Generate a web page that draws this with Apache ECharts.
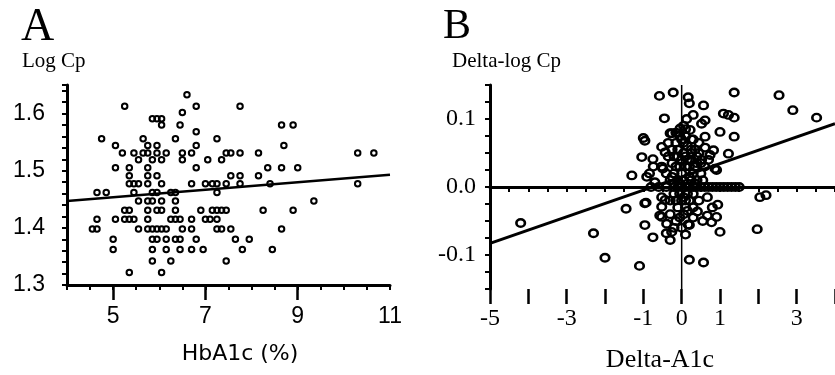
<!DOCTYPE html>
<html>
<head>
<meta charset="utf-8">
<script src="https://cdn.jsdelivr.net/npm/echarts@6/dist/echarts.min.js"></script>
<style>
  html, body { margin: 0; padding: 0; background: #fff; }
  #chart { width: 835px; height: 375px; }
</style>
</head>
<body>
<div id="chart"></div>
<script>
// Panel A: HbA1c (%) vs log Cp, one [x, y] pair per patient
const hba1cLogCp = [
  [5.35,1.322],[6.05,1.322],
  [5.85,1.342],[6.25,1.342],[7.45,1.342],
  [5.0,1.362],[5.85,1.362],[6.15,1.362],[6.45,1.362],[6.7,1.362],[6.95,1.362],[7.8,1.362],[8.45,1.362],
  [5.0,1.380],[5.85,1.380],[5.95,1.380],[6.15,1.380],[6.35,1.380],[6.45,1.380],[6.8,1.380],[7.65,1.380],[7.95,1.380],
  [4.55,1.398],[4.65,1.398],[5.55,1.398],[5.75,1.398],[5.85,1.398],[5.95,1.398],[6.05,1.398],[6.15,1.398],[6.5,1.398],[6.7,1.398],[7.25,1.398],[7.35,1.398],[7.55,1.398],[8.65,1.398],
  [4.65,1.415],[5.05,1.415],[5.25,1.415],[5.35,1.415],[5.45,1.415],[5.75,1.415],[6.25,1.415],[6.35,1.415],[6.45,1.415],[6.7,1.415],[7.0,1.415],[7.1,1.415],[7.25,1.415],
  [5.25,1.431],[5.35,1.431],[5.75,1.431],[5.95,1.431],[6.05,1.431],[6.35,1.431],[6.9,1.431],[7.15,1.431],[7.25,1.431],[7.35,1.431],[7.45,1.431],[8.25,1.431],[8.9,1.431],
  [5.55,1.447],[5.75,1.447],[5.85,1.447],[6.05,1.447],[6.35,1.447],[9.35,1.447],
  [4.65,1.462],[4.85,1.462],[5.45,1.462],[5.85,1.462],[5.95,1.462],[6.25,1.462],[6.35,1.462],[7.25,1.462],
  [5.35,1.477],[5.45,1.477],[5.55,1.477],[5.75,1.477],[6.05,1.477],[6.7,1.477],[7.0,1.477],[7.15,1.477],[7.25,1.477],[7.45,1.477],[7.75,1.477],[8.4,1.477],[10.3,1.477],
  [5.35,1.491],[5.75,1.491],[5.95,1.491],[7.55,1.491],[7.75,1.491],[8.15,1.491],
  [5.05,1.505],[5.35,1.505],[5.75,1.505],[6.8,1.505],[8.35,1.505],[8.65,1.505],[9.0,1.505],
  [5.55,1.519],[5.85,1.519],[6.05,1.519],[6.5,1.519],[7.05,1.519],[7.35,1.519],
  [5.2,1.531],[5.45,1.531],[5.65,1.531],[5.75,1.531],[5.95,1.531],[6.15,1.531],[6.5,1.531],[6.7,1.531],[7.45,1.531],[7.55,1.531],[7.75,1.531],[8.15,1.531],[10.3,1.531],[10.65,1.531],
  [5.05,1.544],[5.75,1.544],[5.95,1.544],[6.8,1.544],[8.7,1.544],
  [4.75,1.556],[5.65,1.556],[6.35,1.556],[7.25,1.556],
  [6.8,1.568],
  [6.05,1.580],[6.45,1.580],[8.65,1.580],[8.9,1.580],
  [5.85,1.591],[5.95,1.591],[6.05,1.591],
  [6.5,1.602],
  [5.25,1.613],[6.8,1.613],[7.75,1.613],
  [6.6,1.633]
];
const fitA = [[4, 1.447], [11, 1.493]];
const ticksAx = [5, 7, 9, 11];
const ticksAy = [1.3, 1.4, 1.5, 1.6];

// Panel B: change in A1c vs change in log Cp
const deltaA1cLogCp = [
  [-4.2,-0.053],[-2.3,-0.068],[-2.0,-0.104],[-1.1,-0.116],[-1.45,-0.032],[-1.3,0.017],
  [-1.0,0.072],[-0.96,0.068],[-1.04,0.044],[-0.75,0.041],[-0.91,0.015],[-0.58,0.134],[-0.22,0.139],[-0.45,0.101],
  [-0.96,-0.024],[-0.96,-0.056],[-0.75,-0.074],[-0.3,-0.078],[-0.4,-0.068],[-0.52,-0.044],[-0.57,-0.042],[-0.39,-0.054],[-0.26,-0.066],
  [-0.52,0.059],[-0.43,0.051],[-0.26,0.079],[-0.49,0.027],[-0.52,-0.015],[-0.7,0.007],[-0.84,0.02],[-0.74,0.03],[-0.52,0.03],
  [0.2,-0.107],[0.57,-0.111],[0.17,0.132],[0.2,0.123],[0.57,0.12],[1.37,0.139],[2.54,0.135],[2.9,0.113],[3.52,0.102],
  [1.09,0.108],[1.22,0.106],[1.37,0.102],[0.3,0.106],[0.13,0.1],[0.61,0.098],[0.52,0.093],[1.0,0.081],[1.37,0.074],[0.61,0.074],
  [0.22,0.084],[0.26,0.07],[-0.04,0.086],[-0.3,0.079],
  [0.61,0.058],[0.83,0.054],[1.22,0.049],[0.87,0.027],[0.26,0.05],[0.52,0.04],[0.35,0.03],[0.74,0.047],[0.91,0.025],
  [2.04,-0.015],[2.2,-0.012],[1.97,-0.062],[1.0,-0.066],[0.17,-0.055],[0.2,-0.056],
  [0.41,-0.036],[0.67,-0.042],[0.78,-0.052],[0.91,-0.044],[0.94,-0.026],[0.67,-0.015],[0.45,-0.02],[0.3,-0.03],[0.8,-0.03],
  [0.55,-0.05],[0.3,-0.045],[0.1,-0.02],[0.05,-0.04],
  [-0.93,-0.023],[-0.52,-0.029],[-0.43,-0.019],[-0.2,-0.01],[-0.1,-0.03],[-0.3,-0.04],[-0.15,-0.05],[-0.05,-0.045],[-0.2,-0.06],
  [-0.8,0],[-0.6,0],[-0.4,0],[-0.2,0],[-0.1,0],[0,0],[0.1,0],[0.2,0],[0.3,0],[0.4,0],[0.5,0],[0.6,0],[0.7,0],
  [0.8,0],[0.9,0],[1.0,0],[1.1,0],[1.2,0],[1.3,0],[1.4,0],[1.5,0],
  [-0.3,0.01],[-0.2,0.02],[-0.1,0.01],[0,0.02],[0.1,0.03],[0.2,0.015],[0.3,0.02],[0.4,0.01],[-0.25,0.035],[-0.1,0.045],
  [0.05,0.05],[0.15,0.06],[0.35,0.055],[0.45,0.065],[-0.15,0.065],[0,0.07],[0.1,0.075],[-0.35,0.045],[0.25,0.04],[0.5,0.02],
  [-0.05,-0.01],[0.05,-0.015],[0.2,-0.02],[-0.3,-0.02],[0.6,0.03],[0.7,0.04],[0.4,0.035],[0.05,0.09],[-0.15,0.08],[0.15,0.04],
  [-0.05,0.03],[0.3,0.07],[0.45,0.05],[-0.25,0.055],[0.15,-0.035],[-0.35,0.065],[0.0,-0.06],[0.1,-0.07],
  [-0.2,0.005],[-0.05,0.005],[0.05,0.01],[0.15,0.005],[0.25,0.01],[0.35,0.005],[-0.15,0.03],[0.0,0.04],[0.2,0.03],[0.1,0.045],
  [-0.1,0.055],[0.05,0.065],[0.25,0.055],[0.4,0.045],[-0.25,0.015],[0.0,-0.02],[0.15,-0.01],[-0.15,-0.02],[0.3,-0.01],[0.1,-0.03],
  [-0.05,0.075],[0.1,0.085],[-0.2,0.045],[0.5,0.035],[-0.4,0.02],[0.55,0.01]
];
const fitB = [[-5, -0.083], [4, 0.093]];
const zeroLineH = [[-5, 0], [4, 0]];
const zeroLineV = [[0, -0.15], [0, 0.15]];
const ticksBx = [-5, -3, -1, 0, 1, 3];
const longTicksBx = [-5, -4, -3, -2, -1, 0, 1, 2, 3, 4];
const ticksBy = [-0.1, 0, 0.1];

const SANS = 'Liberation Sans';
const SERIF = 'Liberation Serif';
const INK = '#000';

const chart = echarts.init(document.getElementById('chart'), null, { renderer: 'canvas' });

// short ticks every half unit; a second overlay axis carries long ticks + labels
function minorX(grid, min, max) {
  return {
    type: 'value', gridIndex: grid, min, max, interval: 0.5, position: 'bottom',
    axisLine: { lineStyle: { color: INK, width: 3 } },
    axisTick: { length: 5, lineStyle: { color: INK, width: 2 } },
    axisLabel: { show: false }, splitLine: { show: false }
  };
}
function majorX(grid, min, max, tickVals, labelVals, font, size, margin) {
  return {
    type: 'value', gridIndex: grid, min, max, interval: 0.5, position: 'bottom',
    axisLine: { show: false },
    axisTick: { length: 15, customValues: tickVals, lineStyle: { color: INK, width: 2.5 } },
    axisLabel: { customValues: labelVals, margin, color: INK, fontFamily: font, fontSize: size },
    splitLine: { show: false }
  };
}

chart.setOption({
  animation: false,
  backgroundColor: '#fff',
  grid: [
    { left: 67, top: 85, width: 323, height: 200 },
    { left: 490, top: 85, width: 345, height: 204 }
  ],
  xAxis: [
    minorX(0, 4, 11),
    majorX(0, 4, 11, [5, 7, 9], ticksAx, SANS, 23, 20),
    minorX(1, -5, 4),
    majorX(1, -5, 4, longTicksBx, ticksBx, SERIF, 24, 18)
  ],
  yAxis: [
    {
      type: 'value', gridIndex: 0, min: 1.3, max: 1.65, interval: 0.02,
      axisLine: { lineStyle: { color: INK, width: 3 } },
      axisTick: { length: 5, lineStyle: { color: INK, width: 2 } },
      axisLabel: { customValues: ticksAy, margin: 22, color: INK, fontFamily: SANS, fontSize: 23,
        formatter: v => v.toFixed(1) },
      splitLine: { show: false }
    },
    {
      type: 'value', gridIndex: 1, min: -0.15, max: 0.15, interval: 0.025,
      axisLine: { onZero: false, lineStyle: { color: INK, width: 3 } },
      axisTick: { length: 5, lineStyle: { color: INK, width: 2 } },
      axisLabel: { customValues: ticksBy, margin: 14, color: INK, fontFamily: SERIF, fontSize: 24,
        formatter: v => v.toFixed(1) },
      splitLine: { show: false }
    }
  ],
  series: [
    {
      type: 'scatter', xAxisIndex: 0, yAxisIndex: 0, data: hba1cLogCp,
      symbol: 'circle', symbolSize: 5.5,
      itemStyle: { color: 'transparent', borderColor: INK, borderWidth: 2, opacity: 1 }
    },
    {
      type: 'line', xAxisIndex: 0, yAxisIndex: 0, data: fitA, showSymbol: false,
      lineStyle: { color: INK, width: 2.5 }
    },
    {
      type: 'line', xAxisIndex: 2, yAxisIndex: 1, data: zeroLineH, showSymbol: false,
      lineStyle: { color: INK, width: 1.2 }
    },
    {
      type: 'line', xAxisIndex: 2, yAxisIndex: 1, data: zeroLineV, showSymbol: false,
      lineStyle: { color: INK, width: 1.5 }
    },
    {
      type: 'scatter', xAxisIndex: 2, yAxisIndex: 1, data: deltaA1cLogCp,
      symbol: 'circle', symbolSize: [8.5, 7.5],
      itemStyle: { color: 'transparent', borderColor: INK, borderWidth: 2.5, opacity: 1 }
    },
    {
      type: 'line', xAxisIndex: 2, yAxisIndex: 1, data: fitB, showSymbol: false,
      lineStyle: { color: INK, width: 3 }
    }
  ],
  graphic: [
    { type: 'text', x: 21, y: 28, style: { text: 'A', fontFamily: SERIF, fontSize: 46, fill: INK, textVerticalAlign: 'middle' } },
    { type: 'text', x: 22, y: 61, style: { text: 'Log Cp', fontFamily: SERIF, fontSize: 21, fill: INK, textVerticalAlign: 'middle' } },
    { type: 'text', x: 240, y: 354, style: { text: 'HbA1c (%)', fontFamily: 'DejaVu Sans', fontSize: 22, fill: INK, textAlign: 'center', textVerticalAlign: 'middle' } },
    { type: 'text', x: 443, y: 27, style: { text: 'B', fontFamily: SERIF, fontSize: 42, fill: INK, textVerticalAlign: 'middle' } },
    { type: 'text', x: 452, y: 61, style: { text: 'Delta-log Cp', fontFamily: SERIF, fontSize: 21, fill: INK, textVerticalAlign: 'middle' } },
    { type: 'text', x: 660, y: 360, style: { text: 'Delta-A1c', fontFamily: SERIF, fontSize: 26, fill: INK, textAlign: 'center', textVerticalAlign: 'middle' } }
  ]
});
</script>
</body>
</html>
